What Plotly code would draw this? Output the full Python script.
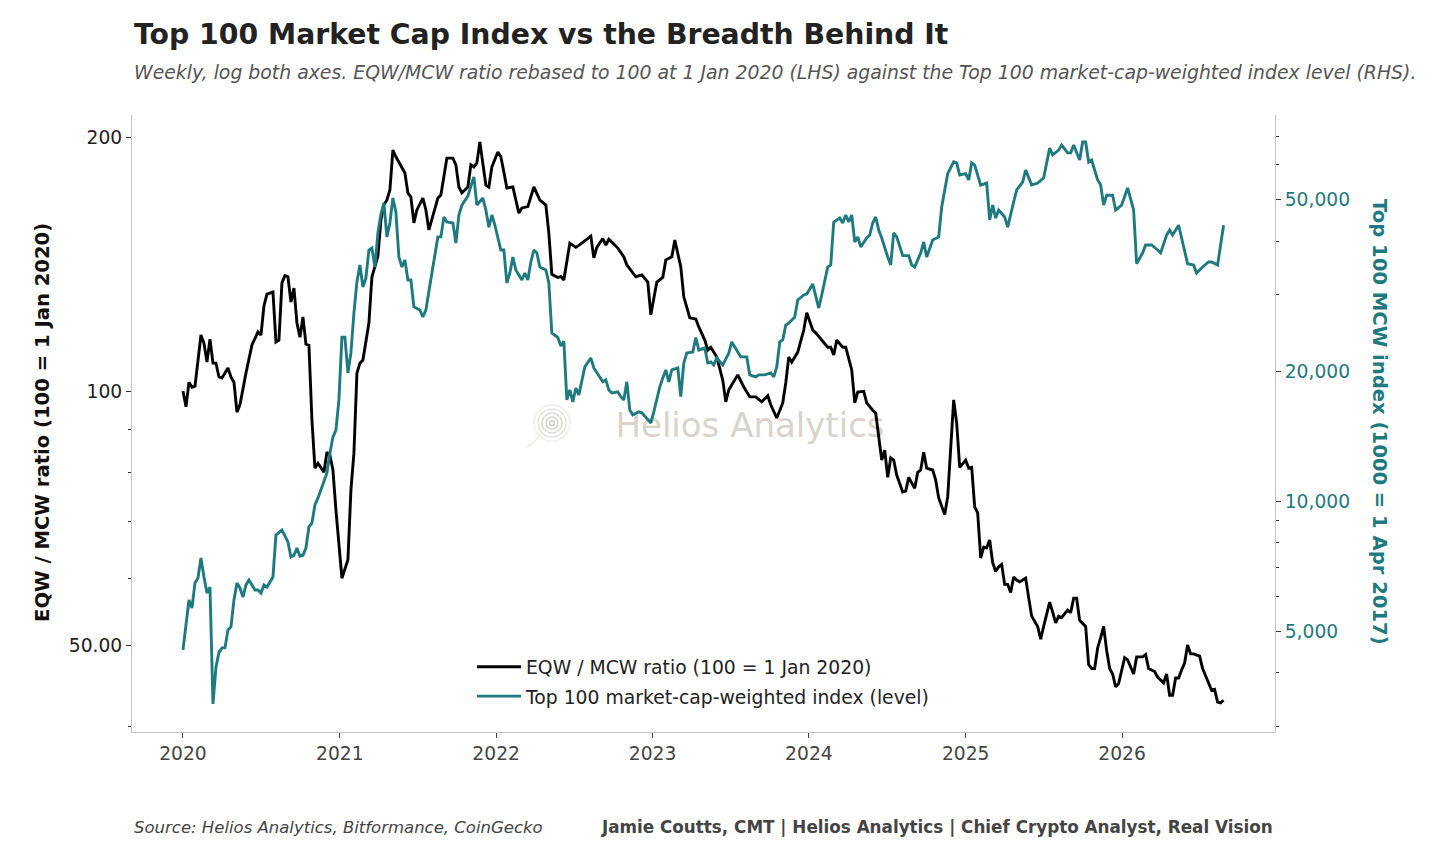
import numpy as np
import pandas as pd
import plotly.graph_objects as go

START = "2020-01-01"

# EQW / MCW ratio (100 = 1 Jan 2020), week offsets from START
eqw_weeks = [0,1,2,3,4,5,6,7,8,9,10,11,12,13,15,16,17,18,19,21,22,23,25,26,27,28,30,31,32,33,
             34,35,36,37,38,39,40,41,42,43,44,45,47,48,49,50,51,52,53,55,56,57,58,59,60,62,63,65,66,67,
             68,69,70,71,73,74,75,76,77,78,80,81,82,84,85,86,87,88,90,91,92,93,95,96,97,98,99,100,101,102,
             103,105,106,107,108,110,112,113,115,117,119,121,122,123,125,126,127,129,131,132,136,137,138,140,
             141,142,145,147,148,150,151,153,155,156,158,160,161,163,164,166,167,169,171,172,174,175,176,178,
             180,181,182,185,187,189,191,193,195,196,198,200,201,202,203,205,207,208,210,211,213,215,216,217,
             218,220,221,223,224,225,227,228,230,231,233,234,235,236,237,238,240,241,242,244,245,246,247,248,
             250,251,252,254,255,257,258,259,261,262,263,264,265,266,267,268,269,270,271,272,273,274,275,276,
             277,278,279,281,282,283,285,286,287,289,290,291,292,293,295,296,297,298,299,301,302,303,304,305,
             306,307,308,309,310,311,312,314,315,317,318,320,321,322,324,325,327,328,329,330,331,332,333,334,
             335,336,337,339,340,341,342,343,344,345,346,347]
eqw_ratio = [100.0,95.8,102.4,101.0,101.3,108.8,116.5,113.9,108.2,115.2,107.9,107.9,103.9,103.6,106.5,103.9,102.4,94.4,96.3,105.0,
             109.4,113.4,117.5,116.5,126.1,130.3,131.0,114.3,114.9,134.3,137.0,136.6,127.5,132.4,120.4,115.8,122.4,113.6,113.3,92.4,
             81.0,82.1,80.1,84.6,83.9,80.6,72.3,66.1,60.0,63.1,76.3,84.4,105.0,107.9,108.8,120.4,136.5,144.5,159.5,166.1,
             168.4,173.1,193.0,189.5,184.3,181.3,171.7,169.8,158.2,163.9,169.3,163.9,155.2,163.9,169.3,170.7,179.3,188.8,188.8,185.4,
             174.5,171.7,174.5,185.4,184.3,186.3,197.3,186.3,175.4,174.5,184.3,192.0,189.5,181.8,174.0,174.5,162.5,164.8,165.4,174.5,
             168.4,166.1,153.9,137.5,136.3,136.7,135.4,149.7,148.0,148.8,152.6,143.8,148.0,151.6,148.9,151.3,147.7,144.2,141.1,138.0,
             136.6,137.3,134.6,123.1,134.6,136.3,143.0,144.2,151.0,140.3,129.3,122.1,121.7,119.1,114.9,111.8,112.7,109.7,103.0,97.1,
             100.3,104.5,101.1,98.4,98.4,97.1,98.7,96.3,92.9,96.8,102.2,109.7,108.2,111.2,118.1,123.8,118.1,117.2,114.9,112.7,
             112.7,110.3,114.9,112.7,112.7,105.9,96.8,99.7,99.9,96.8,94.9,94.1,82.8,85.1,79.0,83.3,82.8,79.5,75.9,76.1,
             79.0,76.7,80.1,80.6,84.6,81.0,80.6,78.4,74.7,71.4,74.9,97.6,91.6,81.2,82.8,81.0,81.2,72.9,71.7,63.4,
             65.3,65.2,66.6,62.6,61.1,61.9,62.3,59.0,59.0,57.7,60.2,59.7,59.4,60.0,56.9,54.1,52.6,50.8,52.6,56.2,
             54.7,53.1,54.1,53.9,55.0,54.6,56.8,56.8,53.5,52.6,47.4,46.9,46.9,49.6,51.0,52.6,49.3,46.9,46.2,44.6,
             45.0,48.3,48.0,46.2,48.4,48.4,48.7,46.9,46.5,45.8,45.1,46.2,43.6,43.6,45.7,45.7,46.7,47.6,50.0,48.8,
             48.8,48.5,46.9,46.0,45.2,44.2,44.3,42.8,42.7,43.0]

# Top 100 market-cap-weighted index level (1000 = 1 Apr 2017), week offsets from START
mcw_weeks = [0,1,2,3,4,5,6,7,8,9,10,11,12,13,14,15,16,17,18,19,20,21,22,24,25,26,27,28,30,31,
             32,33,35,36,37,38,39,40,41,42,43,44,45,47,48,49,50,51,52,53,54,55,56,57,58,59,60,61,62,63,
             64,65,66,67,68,69,70,71,72,73,74,75,76,77,79,80,81,83,85,86,87,88,90,91,92,93,95,96,97,98,
             100,101,102,103,104,106,107,108,109,110,111,113,114,115,116,117,118,119,121,122,123,125,126,127,128,129,
             130,131,132,134,135,136,137,138,140,141,142,143,145,146,147,148,149,150,152,153,155,156,157,159,160,161,
             162,163,165,166,167,168,170,171,172,174,175,176,177,178,180,182,183,185,186,188,189,191,192,194,196,197,
             198,199,200,201,202,204,205,207,208,210,211,212,213,215,216,217,219,220,221,222,223,224,225,226,228,229,
             230,231,232,233,235,236,237,238,240,242,243,244,246,247,248,250,252,253,255,257,258,259,261,262,263,264,
             266,268,269,270,271,272,274,275,277,278,280,281,283,285,287,289,290,292,293,295,296,297,299,300,301,302,
             303,305,306,307,308,310,311,313,315,317,318,320,321,323,325,326,328,329,330,332,333,335,337,338,340,342,
             343,345,347]
mcw_index = [4520,5110,5900,5650,6460,6630,7380,6670,6120,6320,3390,4120,4460,4570,4570,5030,5110,5900,6460,6290,
             5990,6390,6560,6220,6220,6120,6390,6320,6670,8340,8470,8570,8040,7420,7490,7780,7450,7490,7780,8710,
             8890,9790,10150,11070,11610,12920,14060,14600,17140,23950,23950,19790,22020,27250,32150,35200,31300,32850,38130,38540,
             34820,41750,46140,49000,40880,44040,50300,46710,36720,34820,36150,32490,32490,28160,27690,26670,27690,33720,40880,40880,
             45470,44270,44040,39580,45940,48440,50800,53630,56280,48440,50300,47190,43070,45940,43520,38130,38130,31980,33720,36720,
             34270,32490,33720,32490,35770,38130,37530,34820,34270,31980,24490,23910,22840,23450,17140,18080,16960,18270,17610,20440,
             20880,21440,20330,19800,18880,19070,18080,17800,17900,17440,17140,18880,16250,15830,16080,16000,15410,15160,16080,18370,
             19280,20110,18870,20110,20330,17440,20880,22010,22140,23910,22370,22610,20880,21000,20660,21440,20660,22010,23350,22140,
             21560,21560,19590,19390,19590,19590,19800,19390,20440,23350,23600,25530,25800,26670,29210,30000,30160,31800,30000,27980,
             30000,34820,35200,44270,45210,44040,45940,44270,45940,39800,40880,38750,40650,41290,44040,45470,42420,40650,36720,35200,
             41750,40880,37000,37000,35200,34820,37530,39800,36720,40220,40880,47940,57270,61000,60670,56870,57270,55380,60670,59980,
             53900,54480,44740,48440,45200,47190,45470,43070,49240,52510,54790,58410,53900,54480,55980,65680,63310,64980,66720,63990,
             63990,66720,61610,67790,67790,60970,61610,55380,53930,48440,51060,51060,47190,48440,53080,47190,35430,37530,39170,39170,
             38130,37530,41290,42420,41290,43520,40650,35430,35200,33720,34820,35770,35770,35200,43520]

# Axis ticks
year_ticks = ["2020-01-01", "2021-01-01", "2022-01-01", "2023-01-01", "2024-01-01", "2025-01-01", "2026-01-01"]
year_labels = ["2020", "2021", "2022", "2023", "2024", "2025", "2026"]
left_ticks = [50, 100, 200]
left_labels = ["50.00", "100", "200"]
left_minor = [40, 60, 70, 80, 90]
right_ticks = [5000, 10000, 20000, 50000]
right_labels = ["5,000", "10,000", "20,000", "50,000"]
right_minor = [3000, 4000, 6000, 7000, 8000, 9000, 30000, 40000, 60000, 70000]

start = pd.Timestamp(START)
eqw_dates = start + pd.to_timedelta(np.array(eqw_weeks) * 7, unit="D")
mcw_dates = start + pd.to_timedelta(np.array(mcw_weeks) * 7, unit="D")

BLACK = "#000000"
TEAL = "#1f7a80"
SPINE = "#c4c4c4"
FONT = "DejaVu Sans"
TICK_SIZE = 18.7

fig = go.Figure()
fig.add_trace(go.Scatter(
    x=eqw_dates, y=eqw_ratio, mode="lines", yaxis="y",
    name="EQW / MCW ratio (100 = 1 Jan 2020)", legendgroup="a",
    line=dict(color=BLACK, width=2.9),
))
fig.add_trace(go.Scatter(
    x=mcw_dates, y=mcw_index, mode="lines", yaxis="y2",
    name="Top 100 market-cap-weighted index (level)", legendgroup="b",
    line=dict(color=TEAL, width=2.9),
))

# plot area: x 132..1275, y 115..732 in a 1430x848 canvas
L, R, T, B = 132, 1275, 115, 732
PW, PH = R - L, B - T

def px(xp):
    return (xp - L) / PW

def py(yp):
    return (B - yp) / PH

shapes = []
# watermark logo (concentric rings)
cx, cy = px(552), py(423)
ring_cols = ["#efeeec", "#e6e4e0", "#dedbd6", "#d6d2cc", "#cfcac3"]
for r, c in zip([18, 14, 10, 6, 2.5], ring_cols):
    shapes.append(dict(type="circle", xref="paper", yref="paper", layer="below",
                       x0=cx - r / PW, x1=cx + r / PW, y0=cy - r / PH, y1=cy + r / PH,
                       line=dict(color=c, width=1.5), fillcolor="rgba(0,0,0,0)"))
shapes.append(dict(type="line", xref="paper", yref="paper", layer="below",
                   x0=px(527), y0=py(448), x1=px(540), y1=py(436),
                   line=dict(color="#eceae6", width=1.2)))
# watermark text
shapes.append(dict(type="rect", xref="paper", yref="paper", layer="below",
                   x0=px(600), x1=px(900), y0=py(445), y1=py(400),
                   line=dict(width=0), fillcolor="rgba(0,0,0,0)",
                   label=dict(text="Helios Analytics", textposition="middle center",
                              font=dict(family=FONT, size=34, color="#d8d4cc"))))

annotations = [
    dict(text="<b>Top 100 Market Cap Index vs the Breadth Behind It</b>", xref="paper", yref="paper",
         x=0, y=py(34), xanchor="left", yanchor="middle", showarrow=False,
         font=dict(family=FONT, size=28.3, color="#222222")),
    dict(text="<i>Weekly, log both axes. EQW/MCW ratio rebased to 100 at 1 Jan 2020 (LHS) against the Top 100 market-cap-weighted index level (RHS).</i>",
         xref="paper", yref="paper", x=0, y=py(72), xanchor="left", yanchor="middle", showarrow=False,
         font=dict(family=FONT, size=18.85, color="#555555")),
    dict(text="<b>EQW / MCW ratio (100 = 1 Jan 2020)</b>", xref="paper", yref="paper",
         x=px(42), y=py(423), xanchor="center", yanchor="middle", textangle=-90, showarrow=False,
         font=dict(family=FONT, size=19.6, color="#111111")),
    dict(text="<b>Top 100 MCW index (1000 = 1 Apr 2017)</b>", xref="paper", yref="paper",
         x=px(1380), y=py(422), xanchor="center", yanchor="middle", textangle=90, showarrow=False,
         font=dict(family=FONT, size=19.6, color=TEAL)),
    dict(text="<i>Source: Helios Analytics, Bitformance, CoinGecko</i>", xref="paper", yref="paper",
         x=0, y=py(827), xanchor="left", yanchor="middle", showarrow=False,
         font=dict(family=FONT, size=16.5, color="#444444")),
    dict(text="<b>Jamie Coutts, CMT | Helios Analytics | Chief Crypto Analyst, Real Vision</b>",
         xref="paper", yref="paper", x=1, y=py(827), xanchor="right", yanchor="middle", showarrow=False,
         font=dict(family=FONT, size=16.8, color="#444444")),
]

fig.update_layout(
    width=1430, height=848,
    margin=dict(l=L, r=1430 - R, t=T, b=848 - B, pad=0),
    paper_bgcolor="white", plot_bgcolor="white",
    font=dict(family=FONT, size=18, color="#222222"),
    showlegend=True,
    legend=dict(x=px(472), y=py(648), xanchor="left", yanchor="top",
                bgcolor="rgba(0,0,0,0)", borderwidth=0, tracegroupgap=2, itemwidth=44,
                font=dict(family=FONT, size=18.8, color="#222222")),
    xaxis=dict(type="date", range=["2019-09-04", "2026-12-24"],
               tickmode="array", tickvals=year_ticks, ticktext=year_labels,
               ticks="outside", ticklen=5, tickcolor="#444444", tickwidth=1,
               tickfont=dict(family=FONT, size=TICK_SIZE, color="#444444"),
               showline=True, linecolor=SPINE, linewidth=1, showgrid=False, zeroline=False),
    yaxis=dict(type="log", range=[np.log10(50) - 87 * np.log10(2) / 254, np.log10(200) + 22 * np.log10(2) / 254],
               tickmode="array", tickvals=left_ticks, ticktext=left_labels,
               ticks="outside", ticklen=5, tickcolor="#333333", tickwidth=1,
               minor=dict(tickmode="array", tickvals=left_minor, ticks="outside", ticklen=3,
                          tickcolor="#333333", showgrid=False),
               tickfont=dict(family=FONT, size=TICK_SIZE, color="#222222"),
               showline=True, linecolor=SPINE, linewidth=1, showgrid=False, zeroline=False),
    yaxis2=dict(type="log", overlaying="y", side="right",
                range=[4 - 231 * np.log10(2) / 130, 4 + 386 * np.log10(2) / 130],
                tickmode="array", tickvals=right_ticks, ticktext=right_labels,
                ticks="outside", ticklen=5, tickcolor="#333333", tickwidth=1,
                minor=dict(tickmode="array", tickvals=right_minor, ticks="outside", ticklen=3,
                           tickcolor="#333333", showgrid=False),
                tickfont=dict(family=FONT, size=TICK_SIZE, color=TEAL),
                showline=True, linecolor=SPINE, linewidth=1, showgrid=False, zeroline=False),
    shapes=shapes,
    annotations=annotations,
)

fig.write_html("out.html", config={"displayModeBar": False},
               post_script="document.body.style.margin='0';")
